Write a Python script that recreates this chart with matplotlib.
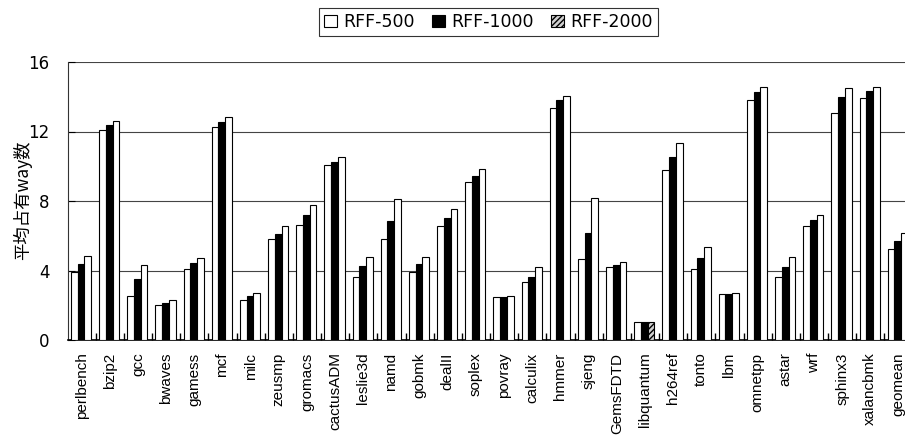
import matplotlib
matplotlib.use("Agg")
import matplotlib.pyplot as plt
import numpy as np
from matplotlib.patches import Patch

categories = ["perlbench", "bzip2", "gcc", "bwaves", "gamess", "mcf", "milc", "zeusmp",
              "gromacs", "cactusADM", "leslie3d", "namd", "gobmk", "dealII", "soplex",
              "povray", "calculix", "hmmer", "sjeng", "GemsFDTD", "libquantum", "h264ref",
              "tonto", "lbm", "omnetpp", "astar", "wrf", "sphinx3", "xalancbmk", "geomean"]

rff500 = [3.93, 12.10, 2.55, 2.00, 4.10, 12.26, 2.28, 5.79, 6.64, 10.07, 3.65, 5.79, 3.91,
          6.58, 9.11, 2.49, 3.32, 13.35, 4.64, 4.18, 1.05, 9.76, 4.07, 2.65, 13.81, 3.65,
          6.56, 13.08, 13.91, 5.26]
rff1000 = [4.37, 12.37, 3.51, 2.13, 4.43, 12.53, 2.55, 6.10, 7.21, 10.23, 4.28, 6.87, 4.37,
           7.02, 9.46, 2.49, 3.65, 13.81, 6.14, 4.34, 1.05, 10.55, 4.72, 2.65, 14.27, 4.20,
           6.91, 13.99, 14.33, 5.72]
rff2000 = [4.85, 12.58, 4.30, 2.28, 4.70, 12.82, 2.70, 6.58, 7.75, 10.51, 4.76, 8.12, 4.76,
           7.52, 9.82, 2.55, 4.18, 14.02, 8.17, 4.47, 1.05, 11.32, 5.37, 2.70, 14.58, 4.76,
           7.17, 14.52, 14.58, 6.14]
series_names = ["RFF-500", "RFF-1000", "RFF-2000"]
yticks = [0, 4, 8, 12, 16]

plt.rcParams["hatch.color"] = "#888888"

W, H = 905, 437
fig = plt.figure(figsize=(W / 100, H / 100), dpi=100)
ax = fig.add_axes([67.5 / W, (H - 340) / H, (912.5 - 67.5) / W, (340 - 62) / H])

x = np.arange(len(categories))
bw = 0.24
ax.bar(x - 0.26, rff500, bw, facecolor="white", edgecolor="black", linewidth=0.8, zorder=3)
ax.bar(x - 0.02, rff1000, bw, facecolor="black", edgecolor="black", linewidth=0.8, zorder=3)
bars3 = ax.bar(x + 0.22, rff2000, bw, facecolor="white", edgecolor="black", linewidth=0.8, zorder=3)
li = categories.index("libquantum")
bars3[li].set_facecolor("#d0d0d0")
bars3[li].set_hatch("//////")

ax.set_xlim(-0.5, len(categories) - 0.5)
ax.set_ylim(0, 16)
ax.set_yticks(yticks)
ax.set_yticklabels([str(v) for v in yticks], fontsize=12)
ax.tick_params(axis="y", direction="in", length=5, pad=13)
ax.set_xticks(x)
ax.set_xticklabels(categories, rotation=90, fontsize=11, family="Liberation Sans")
ax.set_xticks(x[:-1] + 0.5, minor=True)
ax.tick_params(axis="x", which="major", length=0, pad=9)
ax.tick_params(axis="x", which="minor", direction="in", length=5, width=1)

ax.yaxis.grid(True, color="#444444", linewidth=0.8, zorder=0)
ax.set_axisbelow(True)
for s in ["top", "right"]:
    ax.spines[s].set_visible(False)
ax.spines["left"].set_color("#333333")
ax.spines["bottom"].set_linewidth(1.2)

fig.text(23 / W, 1 - 200 / H, "平均占有way数", rotation=90, ha="center", va="center",
         fontsize=12.5, family=["Noto Sans CJK JP", "DejaVu Sans"])

handles = [Patch(facecolor="white", edgecolor="black", linewidth=0.8),
           Patch(facecolor="black", edgecolor="black", linewidth=0.8),
           Patch(facecolor="#d0d0d0", edgecolor="black", linewidth=0.8, hatch="//////")]
leg = fig.legend(handles, series_names, loc="center", bbox_to_anchor=(488.5 / W, 1 - 22 / H),
                 ncol=3, fontsize=12.5, handlelength=0.75, handleheight=0.75, handletextpad=0.35,
                 columnspacing=1.0, frameon=True, fancybox=False, borderpad=0.3)
leg.get_frame().set_edgecolor("black")
leg.get_frame().set_linewidth(0.8)

fig.savefig("out.png", dpi=100)
